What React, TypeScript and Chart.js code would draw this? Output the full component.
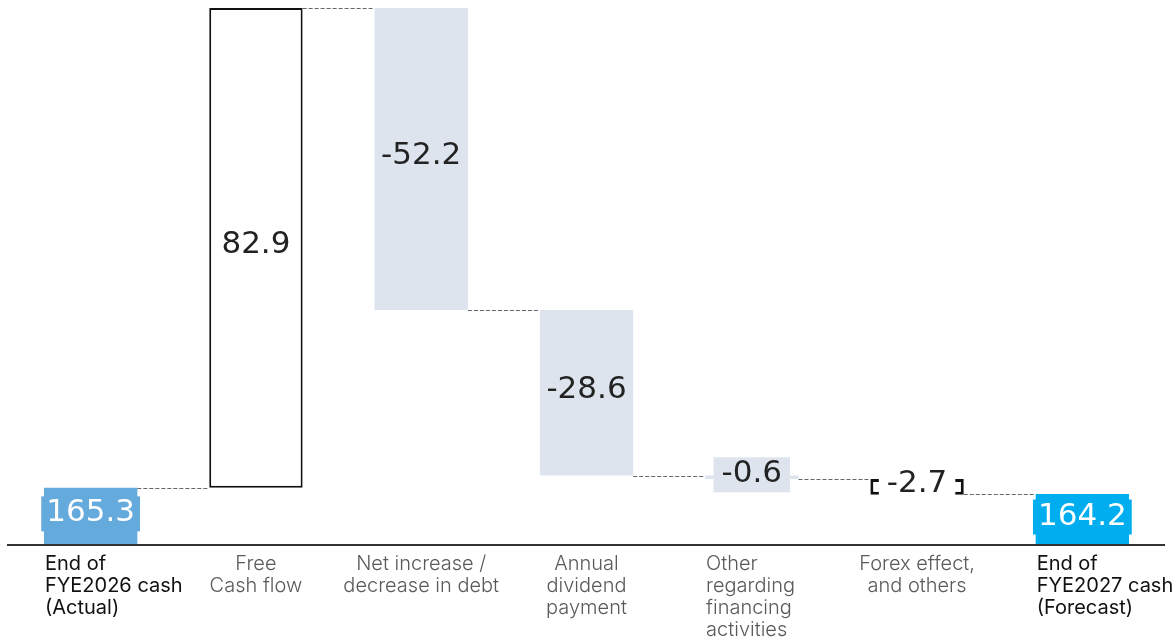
import React, { useEffect, useRef } from 'react';
import { Chart, registerables } from 'chart.js';

Chart.register(...registerables);

const categories: string[][] = [
  ['End of', 'FYE2026 cash', '(Actual)'],
  ['Free', 'Cash flow'],
  ['Net increase /', 'decrease in debt'],
  ['Annual', 'dividend', 'payment'],
  ['Other', 'regarding', 'financing', 'activities'],
  ['Forex effect,', 'and others'],
  ['End of', 'FYE2027 cash', '(Forecast)'],
];
const startCash = 165.3;
const changes = [82.9, -52.2, -28.6, -0.6, -2.7];
const endCash = 164.2;
const valueLabels = ['165.3', '82.9', '-52.2', '-28.6', '-0.6', '-2.7', '164.2'];
const yMin = 155.4;
const yMax = 248.2;

const barFill = ['#65AADD', '#FFFFFF', '#DDE4EE', '#DDE4EE', '#DDE4EE', '#FFFFFF', '#00AEEF'];
const barBorder = [0, 2, 0, 0, 0, 3, 0];
const labelText = ['#FFFFFF', '#222222', '#222222', '#222222', '#222222', '#222222', '#FFFFFF'];
const labelBg: (string | null)[] = ['#65AADD', null, null, null, '#DDE4EE', '#FFFFFF', '#00AEEF'];
const catAlign = ['left', 'center', 'center', 'center', 'left', 'center', 'left'];
const catColor = ['#111111', '#5a5a5a', '#5a5a5a', '#5a5a5a', '#5a5a5a', '#5a5a5a', '#111111'];

// running totals -> floating ranges
const ranges: [number, number][] = [];
const levels: number[] = [];
ranges.push([0, startCash]);
levels.push(startCash);
let run = startCash;
for (const c of changes) {
  const next = run + c;
  ranges.push([Math.min(run, next), Math.max(run, next)]);
  run = next;
  levels.push(run);
}
ranges.push([0, endCash]);

const waterfallPlugin = {
  id: 'waterfallDecor',
  afterDatasetsDraw(chart: any) {
    const ctx = chart.ctx as CanvasRenderingContext2D;
    const meta = chart.getDatasetMeta(0);
    const y = chart.scales.y;
    const area = chart.chartArea;
    ctx.save();
    // axis line
    ctx.strokeStyle = '#333333';
    ctx.lineWidth = 2;
    ctx.beginPath();
    ctx.moveTo(7, area.bottom);
    ctx.lineTo(area.right, area.bottom);
    ctx.stroke();
    // connectors
    ctx.strokeStyle = '#666666';
    ctx.lineWidth = 1;
    ctx.setLineDash([4, 2]);
    for (let i = 0; i < meta.data.length - 1; i++) {
      const a = meta.data[i];
      const b = meta.data[i + 1];
      const level = i === meta.data.length - 2 ? endCash : levels[i];
      const py = Math.round(y.getPixelForValue(level)) + 0.5;
      ctx.beginPath();
      ctx.moveTo(a.x + a.width / 2, py);
      ctx.lineTo(b.x - b.width / 2, py);
      ctx.stroke();
    }
    ctx.setLineDash([]);
    // value labels
    ctx.font = '31px "DejaVu Sans"';
    ctx.textAlign = 'center';
    ctx.textBaseline = 'middle';
    meta.data.forEach((bar: any, i: number) => {
      const top = Math.max(y.getPixelForValue(ranges[i][1]), area.top);
      const bottom = Math.min(y.getPixelForValue(ranges[i][0]), area.bottom);
      const cy = (top + bottom) / 2 - 3;
      const txt = valueLabels[i];
      const w = ctx.measureText(txt).width;
      const bg = labelBg[i];
      if (bg) {
        ctx.fillStyle = bg;
        const pad = i === 0 || i === 6 ? 5 : 8;
        ctx.fillRect(bar.x - w / 2 - pad, cy - 17, w + pad * 2, 35);
      }
      ctx.fillStyle = labelText[i];
      ctx.fillText(txt, bar.x, cy);
    });
    // category labels
    ctx.textBaseline = 'middle';
    meta.data.forEach((bar: any, i: number) => {
      const left = catAlign[i] === 'left';
      ctx.font = (i === 0 || i === 6 ? '400' : '300') + ' 20px Inter';
      ctx.fillStyle = catColor[i];
      ctx.textAlign = left ? 'left' : 'center';
      const x = left ? bar.x - bar.width / 2 + 1 : bar.x;
      categories[i].forEach((line, j) => {
        ctx.fillText(line, x, area.bottom + 19 + j * 22);
      });
    });
    ctx.restore();
  },
};

export default function App() {
  const ref = useRef<HTMLCanvasElement>(null);
  useEffect(() => {
    if (!ref.current) return;
    const chart = new Chart(ref.current, {
      type: 'bar',
      data: {
        labels: categories.map((c) => c.join(' ')),
        datasets: [
          {
            data: ranges as any,
            backgroundColor: barFill,
            borderColor: '#111111',
            borderWidth: barBorder,
            borderSkipped: false,
            barPercentage: 0.565,
            categoryPercentage: 1,
          },
        ],
      },
      options: {
        responsive: false,
        animation: false,
        layout: { padding: { left: 8, right: 11, top: 8, bottom: 98 } },
        plugins: { legend: { display: false }, tooltip: { enabled: false } },
        scales: {
          x: { display: false },
          y: { display: false, min: yMin, max: yMax },
        },
      },
      plugins: [waterfallPlugin],
    });
    return () => chart.destroy();
  }, []);
  return (
    <div style={{ position: 'absolute', left: 0, top: 0, width: 1176, height: 643, background: '#fff' }}>
      <canvas ref={ref} width={1176} height={643} />
    </div>
  );
}
